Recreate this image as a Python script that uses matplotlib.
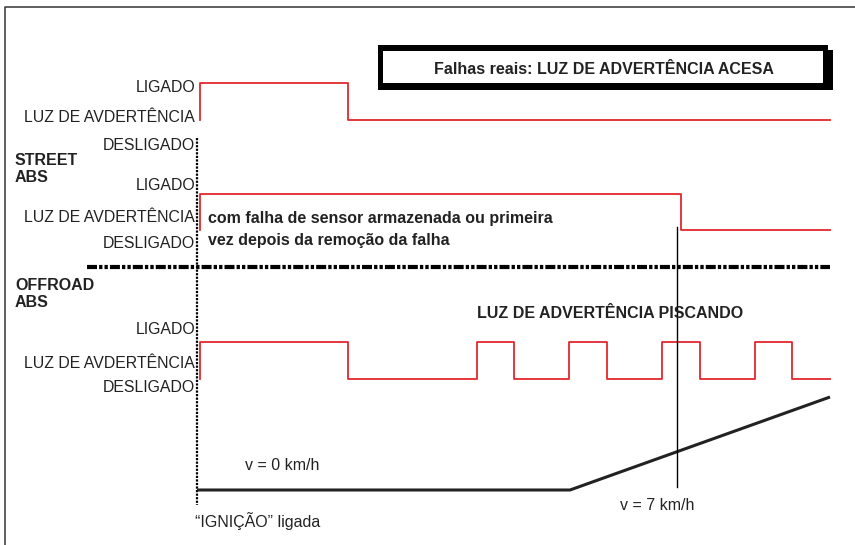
import matplotlib
matplotlib.use("Agg")
import matplotlib.pyplot as plt
from matplotlib.patches import Rectangle
import numpy as np

# ---- data (time axis: 0 = ignition on, arbitrary units) ----
t_end = 630
street1_times = [0, 0, 148, t_end]
street1_state = [0, 1, 0, 0]
street2_times = [0, 0, 481, t_end]
street2_state = [0, 1, 0, 0]
offroad_times = [0, 0, 148, 277, 314, 369, 407, 462, 500, 555, 592, t_end]
offroad_state = [0, 1, 0, 1, 0, 1, 0, 1, 0, 1, 0, 0]
speed_times = [-3, 370, t_end]
speed_kmh = [0, 0, 17]
t_v7 = 477
state_labels = ["LIGADO", "LUZ DE AVDERTÊNCIA", "DESLIGADO"]
group_labels = ["STREET\nABS", "OFFROAD\nABS"]

RED = "#e3262d"
TXT = "#222222"
FONT = "Liberation Sans"
FS_SMALL = 11.5

fig = plt.figure(figsize=(8.55, 5.45), dpi=100)
ax = fig.add_axes([0, 0, 1, 1])
ax.set_xlim(-200, 655)
ax.set_ylim(545, 0)
ax.axis("off")

# outer frame (top and left only)
ax.plot([-195, -195, 655], [545, 7, 7], color="#444444", lw=1.2, solid_capstyle="butt")

# lanes: (high y, low y)
lanes = [(83, 120), (194, 230), (342, 379)]
signals = [(street1_times, street1_state), (street2_times, street2_state),
           (offroad_times, offroad_state)]
for (hi, lo), (tt, ss) in zip(lanes, signals):
    y = [lo + (hi - lo) * s for s in ss]
    ax.plot(tt, y, drawstyle="steps-post", color=RED, lw=1.3)

# state labels
label_y = [(87, 118, 146), (186, 218, 244), (329, 363, 387)]
for ys in label_y:
    for lab, yy in zip(state_labels, ys):
        ax.text(-5, yy, lab, ha="right", va="center", fontsize=11.4,
                family=FONT, color=TXT)

# group labels
for lab, yy in zip(group_labels, [169, 294]):
    ax.text(-185, yy, lab, ha="left", va="center", fontsize=FS_SMALL,
            family=FONT, weight="bold", color=TXT, linespacing=1.15)

# ignition dotted line
ax.plot([-3, -3], [138, 505], color="black", lw=1.6, linestyle=(0, (1, 0.6)))
# separator dash-dot
ax.plot([-113, t_end], [267, 267], color="black", lw=3,
        linestyle=(0, (2.4, 0.5, 0.8, 0.5, 0.8, 0.5)))

# speed line
v_y0, v_scale = 490, 93 / 17
ax.plot(speed_times, [v_y0 - v * v_scale for v in speed_kmh],
        color="#222222", lw=2.2, solid_capstyle="butt")
# v = 7 km/h marker line
ax.plot([t_v7, t_v7], [227, 487], color="black", lw=1)

# texts
ax.text(8, 218, "com falha de sensor armazenada ou primeira", ha="left",
        va="center", fontsize=FS_SMALL, family=FONT, weight="bold", color=TXT)
ax.text(8, 240, "vez depois da remoção da falha", ha="left",
        va="center", fontsize=FS_SMALL, family=FONT, weight="bold", color=TXT)
ax.text(277, 313, "LUZ DE ADVERTÊNCIA PISCANDO", ha="left", va="center",
        fontsize=FS_SMALL, family=FONT, weight="bold", color=TXT)
ax.text(45, 465, "v = 0 km/h", ha="left", va="center", fontsize=FS_SMALL,
        family=FONT, color=TXT)
ax.text(t_v7 - 20, 505, "v = 7 km/h", ha="center", va="center", fontsize=FS_SMALL,
        family=FONT, color=TXT)
ax.text(-5, 521, "\u201cIGNIÇÃO\u201d ligada", ha="left", va="center",
        fontsize=FS_SMALL, family=FONT, color=TXT)

# title box
ax.add_patch(Rectangle((183, 50), 450, 40, facecolor="black", edgecolor="none"))
ax.add_patch(Rectangle((178, 45), 450, 45, facecolor="black", edgecolor="none"))
ax.add_patch(Rectangle((183, 51), 440, 32, facecolor="white", edgecolor="none"))
ax.text(404, 69, "Falhas reais: LUZ DE ADVERTÊNCIA ACESA", ha="center",
        va="center", fontsize=FS_SMALL, family=FONT, weight="bold", color=TXT)

fig.savefig("out.png", dpi=100, facecolor="white")
